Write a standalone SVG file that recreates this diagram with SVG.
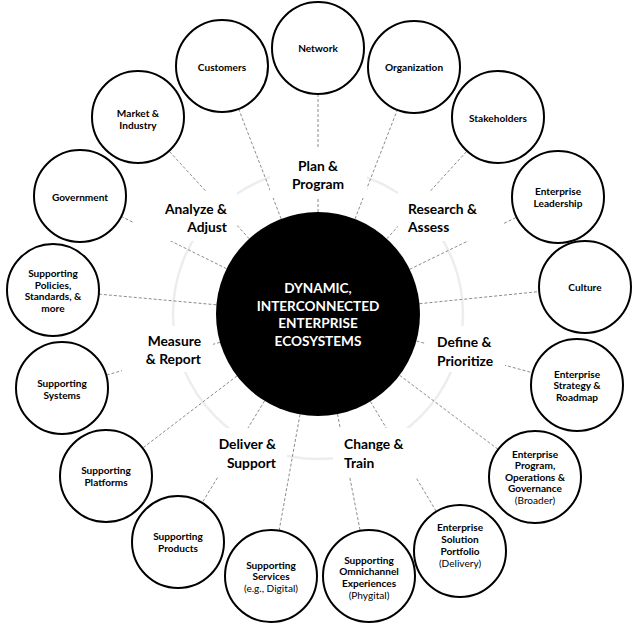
<svg xmlns="http://www.w3.org/2000/svg" width="637" height="629" viewBox="0 0 637 629">
<style>
.bg{fill:#fff}
.ring{fill:none;stroke:#ededed;stroke-width:2.5}
.conn line{stroke:#8c8c8c;stroke-width:1;stroke-dasharray:3 2}
.box{fill:#fff}
.node circle{fill:#fff;stroke:#000;stroke-width:2}
.node text{font-family:Lato,"Open Sans","Liberation Sans",sans-serif;font-weight:700;font-size:10.1px;fill:#000;text-anchor:middle;dominant-baseline:central}
.node text.r{font-weight:400}
.phase text{font-family:Lato,"Open Sans","Liberation Sans",sans-serif;font-weight:700;font-size:13.8px;fill:#000;dominant-baseline:central}
.hub circle{fill:#000}
.hub text{font-family:Lato,"Open Sans","Liberation Sans",sans-serif;font-weight:700;font-size:13.6px;fill:#fff;text-anchor:middle;dominant-baseline:central}
</style>
<rect class="bg" x="0" y="0" width="637" height="629"/>
<circle class="ring" cx="318" cy="314" r="145"/>
<g id="connectors" class="conn">
<line x1="318" y1="212" x2="318" y2="94"/>
<line x1="281.2" y1="218.9" x2="238.6" y2="108.9"/>
<line x1="355" y1="218.9" x2="397.3" y2="109.9"/>
<line x1="249.2" y1="238.7" x2="169" y2="151"/>
<line x1="386.8" y1="238.7" x2="467" y2="151"/>
<line x1="226.6" y1="268.7" x2="121.2" y2="216.4"/>
<line x1="409.7" y1="269.3" x2="516.7" y2="217.2"/>
<line x1="216.4" y1="304.8" x2="98.8" y2="294.1"/>
<line x1="419.5" y1="303.7" x2="539.2" y2="291.6"/>
<line x1="220" y1="342.3" x2="106.2" y2="375.2"/>
<line x1="416.4" y1="341" x2="532.6" y2="372.8"/>
<line x1="237" y1="375.9" x2="142.6" y2="448.1"/>
<line x1="399.6" y1="375.3" x2="498.2" y2="449.4"/>
<line x1="264.6" y1="400.9" x2="202.1" y2="502.8"/>
<line x1="370.4" y1="401.5" x2="436.4" y2="511.5"/>
<line x1="300" y1="414.4" x2="279.1" y2="530.7"/>
<line x1="337.5" y1="414.1" x2="360.2" y2="530.8"/>
</g>
<g id="phases" class="phase">
<rect class="box" x="270" y="148" width="97" height="50"/>
<rect class="box" x="133" y="191" width="104" height="50"/>
<rect class="box" x="398" y="191" width="105" height="50"/>
<rect class="box" x="122" y="326" width="91" height="46"/>
<rect class="box" x="425" y="326" width="80" height="46"/>
<rect class="box" x="200" y="428" width="87" height="49"/>
<rect class="box" x="333" y="428" width="107" height="49"/>
<text x="318" y="165" text-anchor="middle">Plan &amp;</text>
<text x="318" y="183" text-anchor="middle">Program</text>
<text x="227" y="208" text-anchor="end">Analyze &amp;</text>
<text x="227" y="226" text-anchor="end">Adjust</text>
<text x="408" y="208" text-anchor="start">Research &amp;</text>
<text x="408" y="226" text-anchor="start">Assess</text>
<text x="201" y="340" text-anchor="end">Measure</text>
<text x="201" y="358" text-anchor="end">&amp; Report</text>
<text x="437" y="341" text-anchor="start">Define &amp;</text>
<text x="437" y="360" text-anchor="start">Prioritize</text>
<text x="276" y="443" text-anchor="end">Deliver &amp;</text>
<text x="276" y="462" text-anchor="end">Support</text>
<text x="344" y="443" text-anchor="start">Change &amp;</text>
<text x="344" y="462" text-anchor="start">Train</text>
</g>
<g id="hub" class="hub">
<circle cx="318" cy="314" r="102"/>
<text x="318" y="288">DYNAMIC,</text>
<text x="318" y="306">INTERCONNECTED</text>
<text x="318" y="323">ENTERPRISE</text>
<text x="318" y="341">ECOSYSTEMS</text>
</g>
<g id="n-network" class="node"><circle cx="318" cy="48" r="46"/><text x="318" y="48">Network</text></g>
<g id="n-customers" class="node"><circle cx="222" cy="66" r="46"/><text x="222" y="67">Customers</text></g>
<g id="n-organization" class="node"><circle cx="414" cy="67" r="46"/><text x="414" y="67">Organization</text></g>
<g id="n-market" class="node"><circle cx="138" cy="117" r="46"/><text x="138" y="113">Market &amp;</text><text x="138" y="124.5">Industry</text></g>
<g id="n-stakeholders" class="node"><circle cx="498" cy="117" r="46"/><text x="498" y="117.5">Stakeholders</text></g>
<g id="n-government" class="node"><circle cx="80" cy="196" r="46"/><text x="80" y="196.5">Government</text></g>
<g id="n-leadership" class="node"><circle cx="558" cy="197" r="46"/><text x="558" y="191">Enterprise</text><text x="558" y="202.5">Leadership</text></g>
<g id="n-policies" class="node"><circle cx="53" cy="290" r="46"/><text x="53" y="273">Supporting</text><text x="53" y="284.5">Policies,</text><text x="53" y="296">Standards, &amp;</text><text x="53" y="307.5">more</text></g>
<g id="n-culture" class="node"><circle cx="585" cy="287" r="46"/><text x="585" y="287">Culture</text></g>
<g id="n-systems" class="node"><circle cx="62" cy="388" r="46"/><text x="62" y="383">Supporting</text><text x="62" y="394.5">Systems</text></g>
<g id="n-strategy" class="node"><circle cx="577" cy="385" r="46"/><text x="577" y="373.5">Enterprise</text><text x="577" y="385">Strategy &amp;</text><text x="577" y="396.5">Roadmap</text></g>
<g id="n-platforms" class="node"><circle cx="106" cy="476" r="46"/><text x="106" y="470">Supporting</text><text x="106" y="481.5">Platforms</text></g>
<g id="n-program" class="node"><circle cx="535" cy="477" r="46"/><text x="535" y="453.5">Enterprise</text><text x="535" y="465">Program,</text><text x="535" y="476.5">Operations &amp;</text><text x="535" y="488">Governance</text><text x="535" y="500" class="r">(Broader)</text></g>
<g id="n-products" class="node"><circle cx="178" cy="542" r="46"/><text x="178" y="536">Supporting</text><text x="178" y="547.5">Products</text></g>
<g id="n-portfolio" class="node"><circle cx="460" cy="551" r="46"/><text x="460" y="527">Enterprise</text><text x="460" y="539">Solution</text><text x="460" y="551">Portfolio</text><text x="460" y="563" class="r">(Delivery)</text></g>
<g id="n-services" class="node"><circle cx="271" cy="576" r="46"/><text x="271" y="564.5">Supporting</text><text x="271" y="576">Services</text><text x="271" y="588" class="r">(e.g., Digital)</text></g>
<g id="n-omni" class="node"><circle cx="369" cy="576" r="46"/><text x="369" y="559.5">Supporting</text><text x="369" y="571">Omnichannel</text><text x="369" y="582.5">Experiences</text><text x="369" y="594.5" class="r">(Phygital)</text></g>
</svg>
